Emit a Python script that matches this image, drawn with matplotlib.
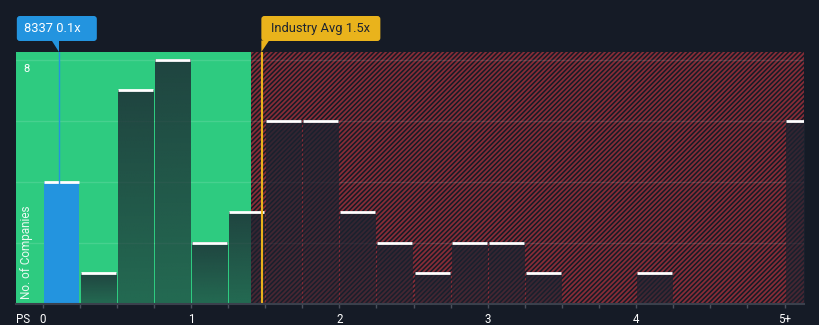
import numpy as np
import matplotlib
matplotlib.use("Agg")
import matplotlib.pyplot as plt
import matplotlib.transforms as mtransforms
from matplotlib.colors import to_rgb
from matplotlib.patches import Rectangle, FancyBboxPatch, Polygon

# --- data ---
bin_starts = [0.0, 0.25, 0.5, 0.75, 1.0, 1.25, 1.5, 1.75, 2.0, 2.25, 2.5,
              2.75, 3.0, 3.25, 3.5, 3.75, 4.0, 4.25, 4.5, 4.75, 5.0]
counts = [4, 1, 7, 8, 2, 3, 6, 6, 3, 2, 1, 2, 2, 1, 0, 0, 1, 0, 0, 0, 6]
bin_width = 0.25

company_ps = 0.11
company_label = "8337 0.1x"
industry_avg = 1.48
industry_label = "Industry Avg 1.5x"
fair_upper = 1.405

x_ticks = [0, 1, 2, 3, 4, 5]
x_ticklabels = ["0", "1", "2", "3", "4", "5+"]
y_label_value = 8

# --- colours ---
BG = "#151b26"
GREEN = "#2ecb80"
RED_HATCH = "#862c37"
BLUE = "#2394df"
ORANGE = "#e9b31c"
OVERLAY = "#1c2330"

plt.rcParams["font.family"] = ["Roboto", "DejaVu Sans"]
plt.rcParams["hatch.linewidth"] = 1.3

fig = plt.figure(figsize=(8.2, 3.25), dpi=100, facecolor=BG)
ax = fig.add_axes([16 / 820, 21 / 325, 788 / 820, 252 / 325])
ax.set_facecolor(BG)

xmin, xmax = -0.1786, 5.131
ymin, ymax = 0, 8.26

# background zones
ax.add_patch(Rectangle((xmin, ymin), fair_upper - xmin, ymax - ymin,
                       facecolor=GREEN, edgecolor="none", zorder=0))
ax.add_patch(Rectangle((fair_upper, ymin), xmax - fair_upper, ymax - ymin,
                       facecolor=BG, edgecolor=RED_HATCH, hatch="/" * 7,
                       linewidth=0, zorder=0))

# grid
for gy in [2, 4, 6, 8]:
    ax.axhline(gy, color="white", alpha=0.12, lw=1, zorder=1)

# bars
gap = 0.007
n = 60
grad = np.zeros((n, 1, 4))
grad[..., :3] = to_rgb(OVERLAY)
grad[:, 0, 3] = np.linspace(0.8, 0.58, n)
for start, c in zip(bin_starts, counts):
    if c == 0:
        continue
    x0, x1 = start + gap, start + bin_width - gap
    if start <= company_ps < start + bin_width:
        ax.add_patch(Rectangle((x0, 0), x1 - x0, c, facecolor=BLUE,
                               edgecolor="none", zorder=2))
    else:
        ax.imshow(grad, extent=[x0, x1, 0, c], aspect="auto", origin="upper",
                  interpolation="bilinear", zorder=2)
    ax.plot([x0, x1], [c, c], color="white", lw=2, zorder=3,
            solid_capstyle="butt")

# marker lines
ax.plot([company_ps, company_ps], [0, ymax], color=BLUE, lw=1, zorder=4)
ax.plot([industry_avg, industry_avg], [0, ymax], color=ORANGE, lw=1.5, zorder=4)

ax.set_xlim(xmin, xmax)
ax.set_ylim(ymin, ymax)

# axes styling
for s in ["top", "right", "left"]:
    ax.spines[s].set_visible(False)
ax.spines["bottom"].set_color("#3a404c")
ax.spines["bottom"].set_linewidth(1.5)
ax.spines["bottom"].set_zorder(5)
ax.set_yticks([])
ax.set_xticks(x_ticks, x_ticklabels)
ax.set_xticks(bin_starts, minor=True)
ax.tick_params(axis="x", which="both", colors="#4a505c", length=3, width=1)
ax.tick_params(axis="x", which="major", labelcolor="white", labelsize=8.3, pad=3.5)

blend = mtransforms.blended_transform_factory(ax.transData, ax.transAxes)
ax.text(-0.131, -0.062, "PS", transform=blend, color="white", fontsize=8.3,
        ha="center", va="center")
ax.text(11 / 788, y_label_value - 0.3, str(y_label_value),
        transform=mtransforms.blended_transform_factory(ax.transAxes, ax.transData),
        color="white", fontsize=8, ha="center", va="center")
ax.text(11 / 788, 0.206, "No. of Companies", transform=ax.transAxes,
        rotation=90, color="white", alpha=0.9, fontsize=8.5,
        ha="center", va="center")


def anchor(x):
    # pixel offsets relative to (x in data, top of axes)
    return mtransforms.Affine2D() + mtransforms.ScaledTranslation(x, 1.0, blend)


# company callout
t = anchor(company_ps)
ax.add_artist(FancyBboxPatch((-42, 11), 80, 25, boxstyle="round,pad=0,rounding_size=3",
                             facecolor=BLUE, edgecolor="none", transform=t,
                             clip_on=False, zorder=6))
ax.add_artist(Polygon([(-7, 11.5), (0.5, 11.5), (0.5, 0)], closed=True,
                      facecolor=BLUE, edgecolor="none", transform=t,
                      clip_on=False, zorder=6))
ax.text(-35, 23.5, company_label, transform=t, color="white", fontsize=9.3,
        ha="left", va="center", zorder=7, clip_on=False)

# industry callout
t = anchor(industry_avg)
ax.add_artist(FancyBboxPatch((-0.8, 11), 119, 25, boxstyle="round,pad=0,rounding_size=3",
                             facecolor=ORANGE, edgecolor="none", transform=t,
                             clip_on=False, zorder=6))
ax.add_artist(Polygon([(-0.8, 11.5), (7, 11.5), (-0.8, 0)], closed=True,
                      facecolor=ORANGE, edgecolor="none", transform=t,
                      clip_on=False, zorder=6))
ax.text(8.5, 23.5, industry_label, transform=t, color="#1e2430", fontsize=9.3,
        ha="left", va="center", zorder=7, clip_on=False)

fig.savefig("out.png", dpi=100, facecolor=BG)
